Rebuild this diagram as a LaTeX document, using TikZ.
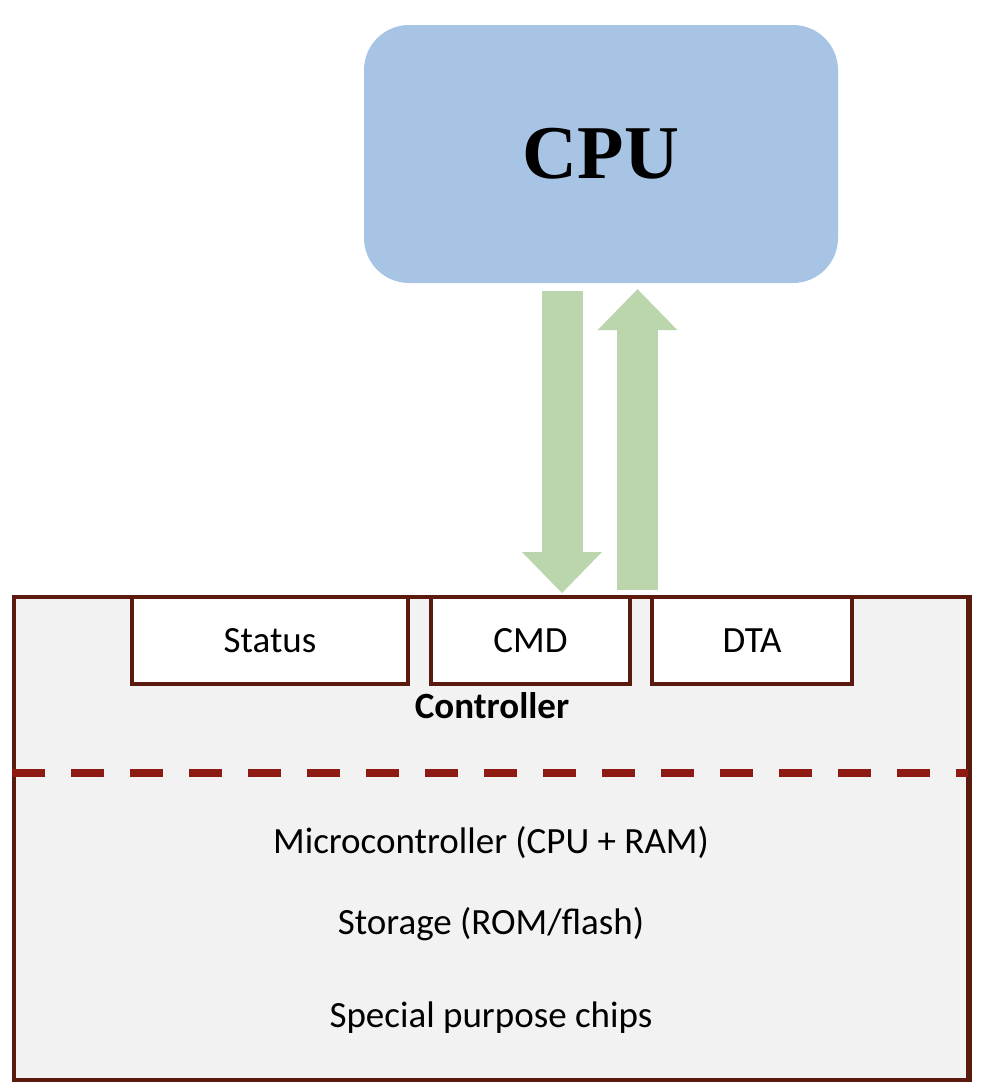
\documentclass[tikz,border=0pt]{standalone}
\usepackage{fontspec}
\setmainfont{Carlito}
\newfontfamily\cpufont{Liberation Serif}
\usetikzlibrary{arrows.meta}
\definecolor{cpublue}{HTML}{A8C4E4}
\definecolor{arrgreen}{HTML}{BBD6AC}
\definecolor{brownline}{HTML}{5A1B0E}
\definecolor{dashred}{HTML}{8E1B13}
\definecolor{panel}{HTML}{F2F2F2}
\tikzset{
  x=1pt, y=-1pt,
  regbox/.style={draw=brownline, line width=4pt, fill=white, minimum height=87pt, inner sep=0pt,
    font=\fontsize{37}{44}\selectfont},
  lbl/.style={anchor=base, inner sep=0pt, font=\fontsize{37}{44}\selectfont},
  bigarrow/.style={draw=arrgreen, line width=41pt, line cap=butt,
    -{Triangle[length=41pt,width=80pt,line width=0pt]}}
}
\begin{document}
\begin{tikzpicture}
\useasboundingbox (0,0) rectangle (986,1092);
\node[fill=cpublue, rounded corners=45pt, minimum width=474pt, minimum height=258pt, inner sep=0pt,
  font=\cpufont\bfseries\fontsize{76}{80}\selectfont] (cpu) at (601,154) {CPU};
\node[draw=brownline, line width=4pt, fill=panel, minimum width=954pt, minimum height=483pt, inner sep=0pt] (ctrl) at (491,838.5) {};
\node[regbox, minimum width=276pt] (status) at (270,640.5) {Status};
\node[regbox, minimum width=199pt] (cmd) at (530.5,640.5) {CMD};
\node[regbox, minimum width=200pt] (dta) at (752,640.5) {DTA};
\draw[dashred, line width=8pt, line cap=butt, dash pattern=on 33pt off 26pt] (ctrl.west |- 0,773) coordinate (dl) -- (ctrl.east |- 0,773) coordinate (dr);
\draw[brownline, line width=4pt] (ctrl.north east) -- (ctrl.south east);
\node[lbl, font=\bfseries\fontsize{37}{44}\selectfont] (clab) at (492,718) {Controller};
\node[lbl] (mc) at (491,853) {Microcontroller (CPU + RAM)};
\node[lbl] (st) at (491,934) {Storage (ROM/flash)};
\node[lbl] (sp) at (491,1027) {Special purpose chips};
\draw[bigarrow] ([xshift=-39pt,yshift=-8pt]cpu.south) -- ([xshift=31.5pt,yshift=2pt]cmd.north);
\draw[bigarrow] ([xshift=-114.5pt,yshift=5pt]dta.north) -- ([xshift=36.5pt,yshift=-6pt]cpu.south);
\end{tikzpicture}
\end{document}
